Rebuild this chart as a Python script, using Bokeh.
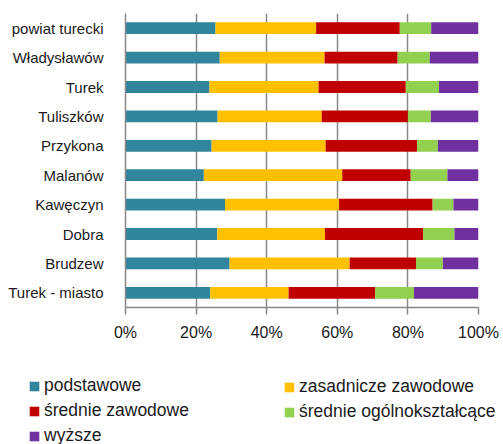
from bokeh.plotting import figure
from bokeh.models import ColumnDataSource, Legend, LegendItem, FactorRange, Range1d, FixedTicker
from bokeh.embed import file_html
from bokeh.resources import INLINE

categories = ["powiat turecki", "Władysławów", "Turek", "Tuliszków", "Przykona",
              "Malanów", "Kawęczyn", "Dobra", "Brudzew", "Turek - miasto"]
series_names = ["podstawowe", "zasadnicze zawodowe", "średnie zawodowe",
                "średnie ogólnokształcące", "wyższe"]
podstawowe = [25.5, 26.7, 23.8, 26.1, 24.4, 22.2, 28.2, 26.0, 29.5, 24.0]
zasadnicze = [28.5, 29.7, 30.9, 29.5, 32.3, 39.2, 32.3, 30.5, 34.0, 22.2]
srednie_zaw = [23.7, 20.7, 24.7, 24.4, 25.9, 19.4, 26.5, 27.8, 18.8, 24.5]
srednie_ogol = [8.9, 9.1, 9.4, 6.5, 5.9, 10.4, 5.9, 8.9, 7.6, 11.0]
wyzsze = [13.4, 13.8, 11.2, 13.5, 11.5, 8.8, 7.1, 6.8, 10.1, 18.3]
tick_values = [0, 20, 40, 60, 80, 100]
tick_labels = ["0%", "20%", "40%", "60%", "80%", "100%"]
colors = ["#31859C", "#FFC000", "#C00000", "#92D050", "#7030A0"]

keys = ["s0", "s1", "s2", "s3", "s4"]
source = ColumnDataSource(dict(cat=categories, s0=podstawowe, s1=zasadnicze,
                               s2=srednie_zaw, s3=srednie_ogol, s4=wyzsze))

W = 503
p = figure(width=W, height=350, output_backend="svg", toolbar_location=None,
           y_range=FactorRange(factors=categories[::-1]), x_range=Range1d(0, 100),
           min_border_left=125, min_border_right=25, min_border_top=13, min_border_bottom=43)
p.outline_line_color = None

p.hbar_stack(keys, y="cat", height=0.4, color=colors, source=source, line_color=None)

p.xaxis.ticker = FixedTicker(ticks=tick_values)
p.xaxis.major_label_overrides = {v: l for v, l in zip(tick_values, tick_labels)}
p.xaxis.major_label_text_font = "Liberation Sans"
p.xaxis.major_label_text_font_size = "16px"
p.xaxis.major_label_text_color = "#1a1a1a"
p.xaxis.axis_line_color = "#888888"
p.xaxis.axis_line_width = 1.5
p.xaxis.major_tick_line_color = "#888888"
p.xaxis.major_tick_line_width = 1.5
p.xaxis.major_tick_out = 7
p.xaxis.major_tick_in = 0
p.xaxis.minor_tick_line_color = None
p.xaxis.major_label_standoff = 9

p.yaxis.major_label_text_font = "Liberation Sans"
p.yaxis.major_label_text_font_size = "15px"
p.yaxis.major_label_text_color = "#1a1a1a"
p.yaxis.axis_line_color = "#888888"
p.yaxis.axis_line_width = 1.5
p.yaxis.major_tick_line_color = None
p.yaxis.major_label_standoff = 16

p.ygrid.grid_line_color = None
p.xgrid.grid_line_color = "#888888"
p.xgrid.grid_line_width = 1.5

# legend figure (separate root, frame covers the whole canvas)
H2 = 94
q = figure(width=W, height=H2, output_backend="svg", toolbar_location=None,
           y_range=FactorRange(factors=categories[::-1]), x_range=Range1d(0, 100),
           x_axis_type=None, y_axis_type=None,
           min_border_left=0, min_border_right=0, min_border_top=0, min_border_bottom=0)
q.outline_line_color = None
q.grid.grid_line_color = None
rs = q.hbar_stack(keys, y="cat", height=0.4, color=colors, source=source, line_color=None)
for r in rs:
    r.visible = False

def make_legend(idx, x, top):
    n = len(idx)
    h = n * 20 + (n - 1) * 4
    items = [LegendItem(label=series_names[i], renderers=[rs[i]]) for i in idx]
    lg = Legend(items=items, location=(x, H2 - h - top), orientation="vertical",
                label_text_font="Liberation Sans", label_text_font_size="17.5px",
                label_text_color="#1a1a1a", glyph_width=12, glyph_height=12,
                label_height=20, spacing=4, padding=0, margin=0,
                label_standoff=4, border_line_color=None, background_fill_alpha=0,
                click_policy="none")
    q.add_layout(lg, "center")

make_legend([0, 2, 4], 28, 28)
make_legend([1, 3], 283, 28)

open("out.html", "w").write(file_html([p, q], INLINE))
